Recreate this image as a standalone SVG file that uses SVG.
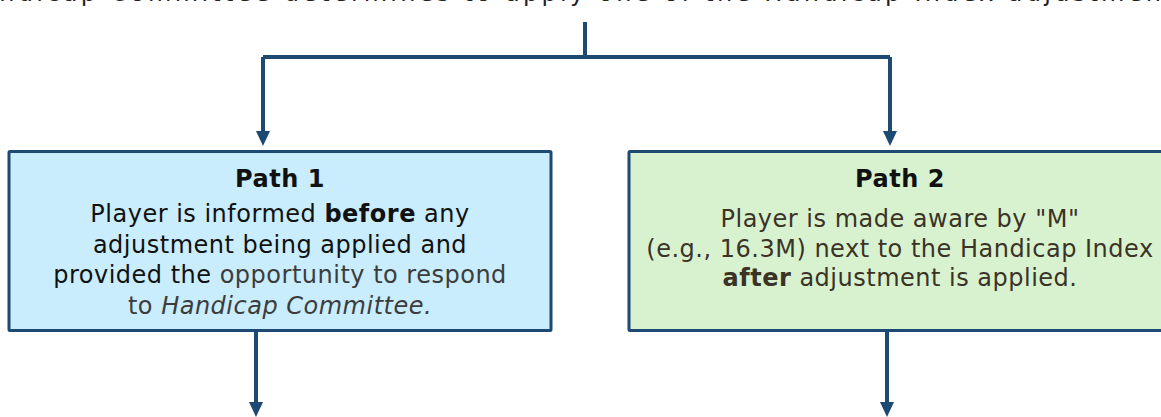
<svg xmlns="http://www.w3.org/2000/svg" width="1161" height="417" viewBox="0 0 1161 417">
<style>
  .t { font-family: "DejaVu Sans", Verdana, sans-serif; font-size: 24px; letter-spacing: 0.5px; text-anchor: middle; }
  .b { font-weight: bold; }
  .i { font-style: italic; }
  .box { stroke: #1d4a72; stroke-width: 3; }
  .ln { fill: none; stroke: #1d4a72; stroke-width: 4; }
  .ah { fill: #1d4a72; }
  .g { fill: #3c3c3c; }
  .br { fill: #3a3326; }
</style>
<rect width="1161" height="417" fill="#ffffff"/>
<text id="toptext" x="-40" y="0.5" class="t" style="text-anchor:start" fill="#222" textLength="1230">Handicap Committee determines to apply one of the Handicap Index adjustments</text>
<g id="connectors">
  <path class="ln" d="M585,22 V57"/>
  <path class="ln" d="M263,57 H890"/>
  <path class="ln" d="M263,57 V131"/>
  <path class="ln" d="M890,57 V131"/>
  <path class="ln" d="M256,331 V403"/>
  <path class="ln" d="M887,331 V403"/>
  <path class="ah" d="M256,131 L270,131 L263,146 Z"/>
  <path class="ah" d="M883,131 L897,131 L890,146 Z"/>
  <path class="ah" d="M249,402 L263,402 L256,417 Z"/>
  <path class="ah" d="M880,402 L894,402 L887,417 Z"/>
</g>
<g id="path1">
  <rect class="box" x="9" y="151.5" width="542" height="179" fill="#c9edfc" rx="1"/>
  <text class="t b" x="280" y="187" fill="#111">Path 1</text>
  <text class="t" x="280" y="222" fill="#111">Player is informed <tspan class="b">before</tspan> any</text>
  <text class="t" x="280" y="253" fill="#111">adjustment being applied and</text>
  <text class="t" x="280" y="283" fill="#111">provided the <tspan class="g">opportunity to respond</tspan></text>
  <text class="t g" x="280" y="314">to <tspan class="i">Handicap Committee.</tspan></text>
</g>
<g id="path2">
  <rect class="box" x="629" y="151.5" width="545" height="179" fill="#d8f2d0" rx="1"/>
  <text class="t b" x="900" y="187" fill="#111">Path 2</text>
  <text class="t br" x="900" y="227">Player is made aware by "M"</text>
  <text class="t br" x="900" y="257">(e.g., 16.3M) next to the Handicap Index</text>
  <text class="t br" x="900" y="286"><tspan class="b">after</tspan> adjustment is applied.</text>
</g>
</svg>
